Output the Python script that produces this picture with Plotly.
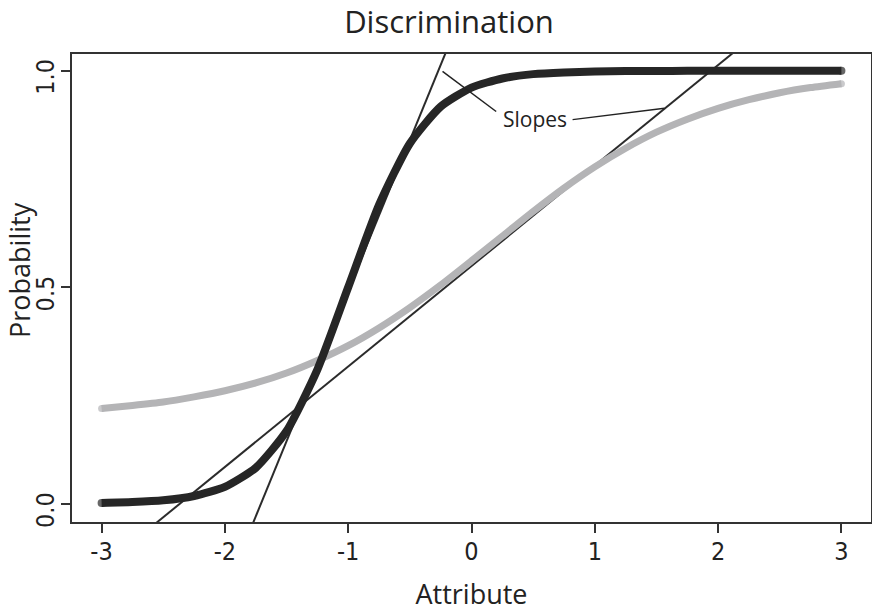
import plotly.graph_objects as go

# ---- data ----
attribute = [-3.0, -2.75, -2.5, -2.25, -2.0, -1.75, -1.5, -1.25, -1.0, -0.75, -0.5, -0.25,
             0.0, 0.25, 0.5, 0.75, 1.0, 1.25, 1.5, 1.75, 2.0, 2.25, 2.5, 2.75, 3.0]
prob_high = [0.002, 0.004, 0.008, 0.018, 0.039, 0.083, 0.168, 0.31, 0.5, 0.69, 0.832, 0.917,
             0.961, 0.982, 0.992, 0.996, 0.998, 0.999, 0.999, 1.0, 1.0, 1.0, 1.0, 1.0, 1.0]
prob_low = [0.22, 0.227, 0.235, 0.247, 0.261, 0.279, 0.302, 0.331, 0.365, 0.406, 0.453, 0.505,
            0.561, 0.618, 0.675, 0.729, 0.778, 0.821, 0.858, 0.888, 0.913, 0.933, 0.949, 0.961, 0.97]

# tangent ("slope") lines: intercept and slope
slope_intercepts = [1.187, 0.549]
slope_values = [0.695, 0.232]

x_ticks = [-3, -2, -1, 0, 1, 2, 3]
x_ticklabels = ["-3", "-2", "-1", "0", "1", "2", "3"]
y_ticks = [0.0, 0.5, 1.0]
y_ticklabels = ["0.0", "0.5", "1.0"]

x_range = [-3.24, 3.24]
y_range = [-0.042, 1.0385]

tick_font = "Liberation Sans Narrow, DejaVu Sans Condensed, Arial Narrow, Roboto, sans-serif"
title_font = "Open Sans, Noto Sans, sans-serif"

fig = go.Figure()

# tangent lines, drawn across the whole x range (clipped by plot area)
for a, b in zip(slope_intercepts, slope_values):
    xs = [x_range[0], x_range[1]]
    fig.add_trace(go.Scatter(x=xs, y=[a + b * v for v in xs], mode="lines",
                             line=dict(color="#2b2b2b", width=2), hoverinfo="skip",
                             showlegend=False, cliponaxis=True))

n = len(attribute)
fig.add_trace(go.Scatter(x=attribute, y=prob_low, mode="lines+markers",
                         line=dict(color="#b4b4b6", width=7, shape="spline", smoothing=0.6),
                         marker=dict(size=[7] + [0] * (n - 2) + [7], color="#b4b4b6",
                                     line=dict(width=0)),
                         showlegend=False))
fig.add_trace(go.Scatter(x=attribute, y=prob_high, mode="lines+markers",
                         line=dict(color="#262626", width=8, shape="spline", smoothing=0.6),
                         marker=dict(size=[8] + [0] * (n - 2) + [8], color="#262626",
                                     line=dict(width=0)),
                         showlegend=False))

# "Slopes" annotation with leader lines
fig.add_annotation(x=0.515, y=0.888, text="Slopes", showarrow=False,
                   font=dict(family=title_font, size=21, color="#222"), xanchor="center", yanchor="middle")
fig.add_shape(type="line", x0=-0.235, y0=0.9986, x1=0.200, y1=0.9057,
              line=dict(color="#222", width=1.5))
fig.add_shape(type="line", x0=0.82, y0=0.887, x1=1.565, y1=0.913,
              line=dict(color="#222", width=1.5))

# y-axis title as a rotated annotation in the left margin
fig.add_annotation(xref="paper", yref="paper", x=(19 - 72) / 799, y=(522 - 270) / 468,
                   text="Probability", textangle=-90, showarrow=False,
                   xanchor="center", yanchor="middle",
                   font=dict(family=title_font, size=27, color="#222"))

fig.update_layout(
    width=872, height=612,
    margin=dict(l=72, r=1, t=54, b=90),
    plot_bgcolor="white", paper_bgcolor="white",
    title=dict(text="Discrimination", x=449 / 872, xanchor="center", xref="container",
               y=1 - 22 / 612, yanchor="middle", yref="container",
               font=dict(family=title_font, size=31, color="#222")),
)
fig.update_xaxes(range=x_range, tickmode="array", tickvals=x_ticks, ticktext=x_ticklabels,
                 showgrid=False, zeroline=False, showline=True, mirror=True, automargin=False,
                 linecolor="#333", linewidth=1.5, ticks="outside", ticklen=9,
                 tickcolor="#333", tickwidth=1.5, ticklabelstandoff=-3,
                 tickfont=dict(family=tick_font, size=25, color="#222"),
                 title=dict(text="Attribute", standoff=24,
                            font=dict(family=title_font, size=27, color="#222")))
fig.update_yaxes(range=y_range, tickmode="array", tickvals=y_ticks, ticktext=y_ticklabels,
                 showgrid=False, zeroline=False, showline=True, mirror=True, automargin=False,
                 linecolor="#333", linewidth=1.5, ticks="outside", ticklen=9,
                 tickcolor="#333", tickwidth=1.5, tickangle=-90, ticklabelstandoff=-3,
                 ticklabelshift=10,
                 tickfont=dict(family=tick_font, size=25, color="#222"))

fig.write_html("out.html", config={"displayModeBar": False})

# remove the browser's default page margin so the figure sits at the window origin
with open("out.html", encoding="utf-8") as f:
    html = f.read()
html = html.replace("<head>", "<head><style>html,body{margin:0;padding:0;overflow:hidden;}</style>", 1)
with open("out.html", "w", encoding="utf-8") as f:
    f.write(html)
